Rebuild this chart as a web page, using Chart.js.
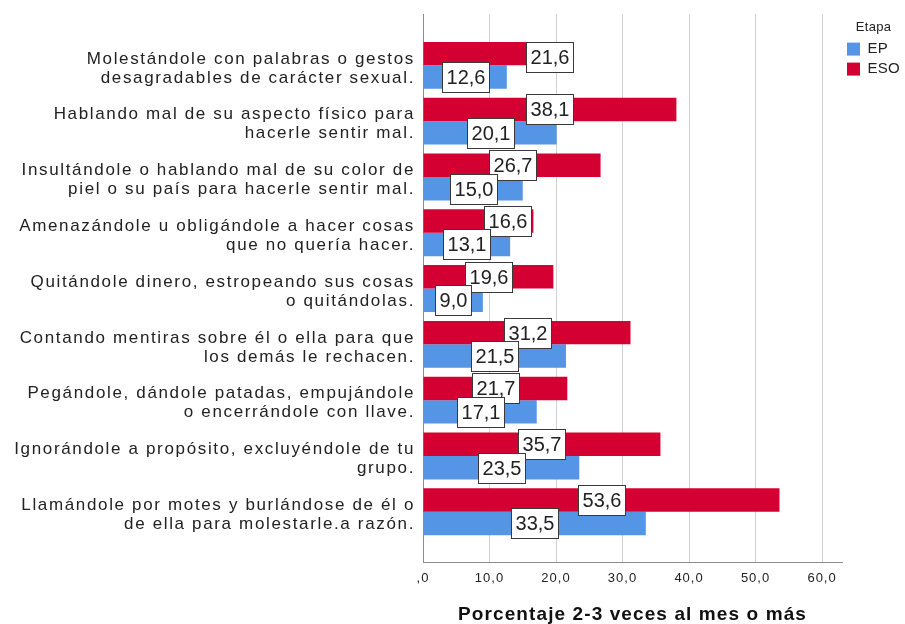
<!DOCTYPE html>
<html>
<head>
<meta charset="utf-8">
<script src="https://cdn.jsdelivr.net/npm/chart.js@4/dist/chart.umd.min.js"></script>
<style>
  html, body { margin: 0; padding: 0; background: #ffffff; }
  #wrap { width: 905px; height: 624px; }
</style>
</head>
<body>
<div id="wrap"><canvas id="c" width="905" height="624"></canvas></div>
<script>
// ---- data ----
const categories = [
  ["Molestándole con palabras o gestos", "desagradables de carácter sexual."],
  ["Hablando mal de su aspecto físico para", "hacerle sentir mal."],
  ["Insultándole o hablando mal de su color de", "piel o su país para hacerle sentir mal."],
  ["Amenazándole u obligándole a hacer cosas", "que no quería hacer."],
  ["Quitándole dinero, estropeando sus cosas", "o quitándolas."],
  ["Contando mentiras sobre él o ella para que", "los demás le rechacen."],
  ["Pegándole, dándole patadas, empujándole", "o encerrándole con llave."],
  ["Ignorándole a propósito, excluyéndole de tu", "grupo."],
  ["Llamándole por motes y burlándose de él o", "de ella para molestarle.a razón."]
];
const esoValues = [21.6, 38.1, 26.7, 16.6, 19.6, 31.2, 21.7, 35.7, 53.6];
const epValues  = [12.6, 20.1, 15.0, 13.1,  9.0, 21.5, 17.1, 23.5, 33.5];
const xTickValues = [0, 10, 20, 30, 40, 50, 60];
const seriesNames = ["ESO", "EP"];
const legendTitle = "Etapa";
const axisTitle = "Porcentaje 2-3 veces al mes o más";

const fmt = v => (v === 0 ? ",0" : v.toFixed(1).replace(".", ","));
const FONT = "'Liberation Sans', Arial, sans-serif";

function withSpacing(obj, name, sp) {
  if (!obj || obj["_sp_" + name]) return;
  const orig = obj[name];
  obj[name] = function (...a) {
    const c = this.ctx;
    const prev = c.letterSpacing;
    c.letterSpacing = sp;
    try { return orig.apply(this, a); } finally { c.letterSpacing = prev; }
  };
  obj["_sp_" + name] = true;
}

const spacingPlugin = {
  id: "spacing",
  afterLayout(chart) {
    withSpacing(chart.scales.y, "drawLabels", "1.65px");
    withSpacing(chart.scales.x, "drawLabels", "1px");
    withSpacing(chart.scales.x, "drawTitle", "1.1px");
    withSpacing(chart.legend, "draw", "0.3px");
  }
};

const boxLabels = {
  id: "boxLabels",
  afterDatasetsDraw(chart, args, opts) {
    const ctx = chart.ctx;
    ctx.save();
    ctx.letterSpacing = "0px";
    ctx.font = "20px " + FONT;
    ctx.textAlign = "center";
    ctx.textBaseline = "middle";
    const n = categories.length;
    for (let i = 0; i < n; i++) {
      for (let d = 0; d < chart.data.datasets.length; d++) {
        const meta = chart.getDatasetMeta(d);
        const el = meta.data[i];
        if (!el) continue;
        const p = el.getProps(["x", "base", "y"], true);
        const val = chart.data.datasets[d].data[i].x;
        const txt = fmt(val);
        const nudge = (opts.nudges || {})[d + "-" + i] || [0, 0];
        const cx = (p.x + p.base) / 2 + nudge[0];
        const cy = p.y + nudge[1];
        const w = Math.round(ctx.measureText(txt).width + 8);
        const h = 30;
        const lx = Math.round(cx - w / 2) + 0.5;
        const ty = Math.round(cy - h / 2) + 0.5;
        ctx.fillStyle = "#ffffff";
        ctx.fillRect(lx, ty, w, h);
        ctx.strokeStyle = "#3a3a3a";
        ctx.lineWidth = 1;
        ctx.strokeRect(lx, ty, w, h);
        ctx.fillStyle = "#222222";
        ctx.fillText(txt, lx + w / 2, ty + h / 2 + 1);
      }
    }
    ctx.restore();
  }
};

const toPoints = arr => arr.map((v, i) => ({ x: v, y: i }));

new Chart(document.getElementById("c"), {
  type: "bar",
  data: {
    datasets: [
      { label: seriesNames[0], data: toPoints(esoValues), backgroundColor: "#d50032", borderWidth: 0 },
      { label: seriesNames[1], data: toPoints(epValues), backgroundColor: "#5595e5", borderWidth: 0 }
    ]
  },
  plugins: [spacingPlugin, boxLabels],
  options: {
    indexAxis: "y",
    responsive: false,
    animation: false,
    categoryPercentage: 0.84,
    barPercentage: 1.0,
    layout: { padding: { top: 14, left: 0, right: 0, bottom: 0 } },
    scales: {
      x: {
        type: "linear",
        min: 0,
        max: 63,
        afterBuildTicks(scale) { scale.ticks = xTickValues.map(v => ({ value: v })); },
        afterFit(scale) { scale.height = 62; },
        ticks: {
          callback: v => fmt(v),
          font: { family: FONT, size: 13 },
          color: "#222222",
          padding: 9,
          maxRotation: 0
        },
        grid: { color: "#d2d2d2", lineWidth: 1, drawTicks: false },
        border: { display: true, color: "#8c8c8c", width: 1 },
        title: {
          display: true,
          text: axisTitle,
          font: { family: FONT, size: 19, weight: "bold", lineHeight: 1.0 },
          color: "#111111",
          padding: { top: 10, bottom: 0 }
        }
      },
      y: {
        type: "linear",
        reverse: true,
        offset: false,
        min: -0.92,
        max: 8.9,
        afterBuildTicks(scale) { scale.ticks = categories.map((_, i) => ({ value: i })); },
        afterFit(scale) {
          scale.width = 423;
          scale.paddingTop = 0;
          scale.paddingBottom = 0;
        },
        ticks: {
          autoSkip: false,
          callback: v => categories[v],
          font: { family: FONT, size: 17, lineHeight: 1.12 },
          color: "#222222",
          padding: 8,
          labelOffset: 3
        },
        grid: { display: false, drawTicks: false, offset: false },
        border: { display: true, color: "#8c8c8c", width: 1 }
      }
    },
    plugins: {
      legend: {
        position: "right",
        align: "start",
        reverse: true,
        maxWidth: 63,
        title: {
          display: true,
          text: legendTitle,
          position: "center",
          font: { family: FONT, size: 13 },
          color: "#222222",
          padding: { top: 7, bottom: 0 }
        },
        labels: {
          boxWidth: 13,
          boxHeight: 13,
          padding: 5,
          font: { family: FONT, size: 15 },
          color: "#222222"
        }
      },
      tooltip: { enabled: false },
      boxLabels: { nudges: { "0-0": [54, 3], "0-3": [29, 0] } }
    }
  }
});
</script>
</body>
</html>
